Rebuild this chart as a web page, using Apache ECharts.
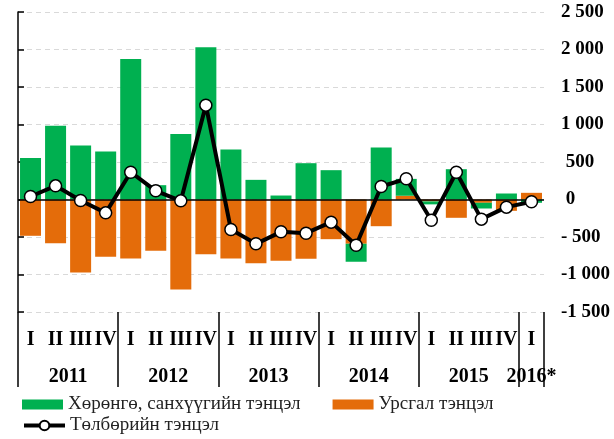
<!DOCTYPE html>
<html>
<head>
<meta charset="utf-8">
<script src="https://cdn.jsdelivr.net/npm/echarts@6/dist/echarts.min.js"></script>
<style>
  html, body { margin: 0; padding: 0; background: #fff; }
  #chart { width: 614px; height: 439px; }
</style>
</head>
<body>
<div id="chart"></div>
<script>
// quarter labels, year labels
var quarters = ['I', 'II', 'III', 'IV', 'I', 'II', 'III', 'IV', 'I', 'II', 'III', 'IV',
                'I', 'II', 'III', 'IV', 'I', 'II', 'III', 'IV', 'I'];
var years = ['2011', '2012', '2013', '2014', '2015', '2016*'];
var yearCenters = [2, 6, 10, 14, 18, 20.5];
var yearBounds = [0, 4, 8, 12, 16, 20, 21];

// Хөрөнгө, санхүүгийн тэнцэл
var financial = [555, 982, 720, 640, 1875, 191, 875, 2031, 667, 262, 53, 484,
                 391, -240, 693, 225, -40, 404, -76, 80, -44];
// Урсгал тэнцэл
var current = [-484, -582, -973, -764, -787, -684, -1200, -729, -787, -849, -818, -791,
               -529, -590, -356, 50, -25, -244, -44, -151, 89];
// Төлбөрийн тэнцэл
var balance = [40, 182, -13, -178, 364, 116, -18, 1258, -400, -591, -431, -449,
               -302, -609, 173, 276, -276, 364, -262, -102, -31];

var serif = "'Liberation Serif', 'Times New Roman', serif";

function yLabel(v) {
    var sign = v < 0 ? '-' : '';
    var a = Math.abs(v);
    if (a >= 1000) {
        var rest = String(a % 1000);
        while (rest.length < 3) rest = '0' + rest;
        return sign + Math.floor(a / 1000) + ' ' + rest;
    }
    return sign + ' ' + a;
}

var chart = echarts.init(document.getElementById('chart'));
var option = {
    animation: false,
    grid: {
        left: 18,
        right: 70,
        top: 12,
        bottom: 127
    },
    legend: [{
        left: 22,
        top: 395,
        padding: 0,
        icon: 'rect',
        itemWidth: 41,
        itemHeight: 10,
        itemGap: 32,
        textStyle: { fontFamily: serif, fontSize: 19, color: '#222' },
        data: ['Хөрөнгө, санхүүгийн тэнцэл', 'Урсгал тэнцэл']
    }, {
        left: 22,
        top: 416,
        padding: 0,
        itemWidth: 41,
        itemHeight: 12,
        lineStyle: { width: 4 },
        textStyle: { fontFamily: serif, fontSize: 19, color: '#222' },
        data: ['Төлбөрийн тэнцэл']
    }],
    xAxis: [{
        type: 'category',
        position: 'bottom',
        data: quarters,
        axisLine: { show: false },
        axisTick: { show: false },
        axisLabel: {
            interval: 0,
            margin: 18,
            color: '#000',
            fontFamily: serif,
            fontWeight: 'bold',
            fontSize: 20
        }
    }, {
        type: 'value',
        position: 'bottom',
        min: 0,
        max: 21,
        splitLine: { show: false },
        axisLine: { show: false },
        axisTick: {
            show: true,
            customValues: yearBounds,
            length: 75,
            lineStyle: { color: '#000', width: 1.5 }
        },
        axisLabel: {
            customValues: yearCenters,
            margin: 55,
            color: '#000',
            fontFamily: serif,
            fontWeight: 'bold',
            fontSize: 20,
            formatter: function (v) {
                return years[yearCenters.indexOf(v)];
            }
        }
    }],
    yAxis: {
        type: 'value',
        position: 'right',
        min: -1500,
        max: 2500,
        interval: 500,
        axisLine: { show: true, lineStyle: { color: '#000', width: 1.5 } },
        axisTick: { show: true, length: 6, lineStyle: { color: '#000', width: 1.5 } },
        splitLine: { lineStyle: { color: '#d9d9d9', type: [5, 4], width: 1 } },
        axisLabel: {
            align: 'left',
            margin: 17,
            color: '#000',
            fontFamily: serif,
            fontWeight: 'bold',
            fontSize: 19,
            formatter: yLabel
        }
    },
    series: [{
        name: 'Урсгал тэнцэл',
        type: 'bar',
        stack: 'bop',
        barWidth: 21,
        data: current,
        itemStyle: { color: '#e46c0a' }
    }, {
        name: 'Хөрөнгө, санхүүгийн тэнцэл',
        type: 'bar',
        stack: 'bop',
        barWidth: 21,
        data: financial,
        itemStyle: { color: '#00b050' },
        markLine: {
            silent: true,
            symbol: 'none',
            label: { show: false },
            lineStyle: { color: '#000', type: 'solid', width: 1.5 },
            data: [{ yAxis: 0 }]
        }
    }, {
        name: 'Төлбөрийн тэнцэл',
        type: 'line',
        data: balance,
        symbol: 'circle',
        symbolSize: 12,
        lineStyle: { color: '#000', width: 4 },
        itemStyle: { color: '#fff', borderColor: '#000', borderWidth: 1.5 },
        z: 5
    }]
};
chart.setOption(option);
</script>
</body>
</html>
